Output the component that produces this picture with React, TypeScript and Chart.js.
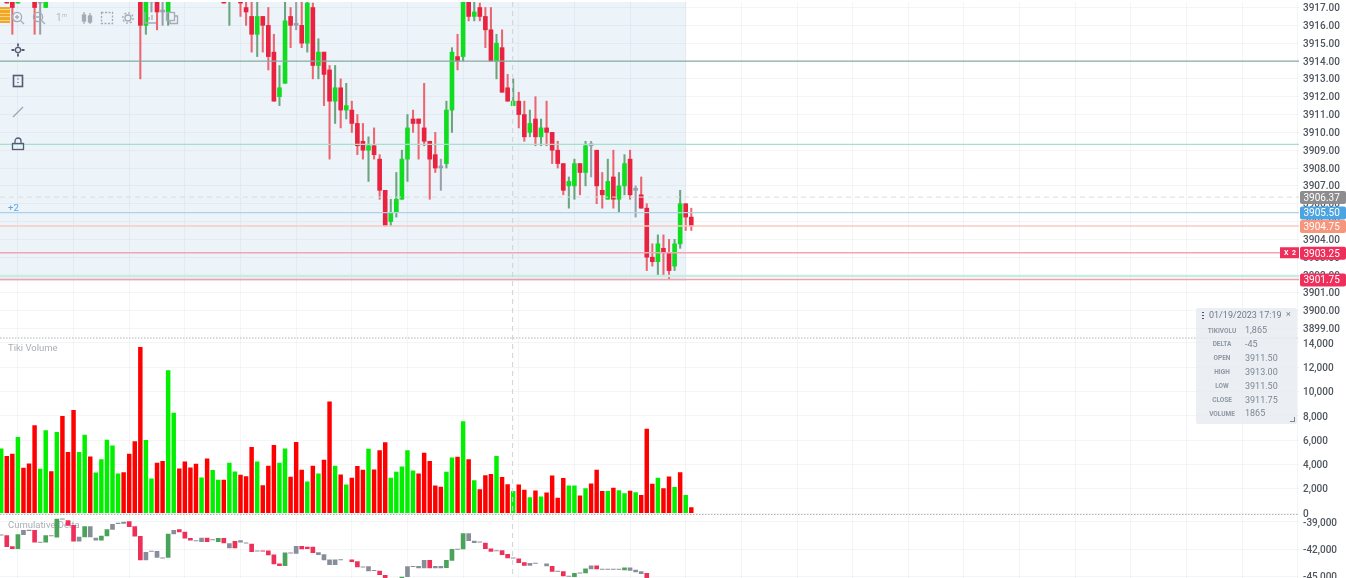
import React, { useEffect, useRef } from "react";
import { Chart, registerables } from "chart.js";

Chart.register(...registerables);

const priceTicksFormat = 2;
const firstBarTick = 7; // bar i sits at x = i + firstBarTick, so grid lines fall every 10 bars

const opens = [
  3918.25, 3918, 3918, 3917.25, 3918.5, 3919, 3918.25, 3917.25, 3917, 3918.5,
  3918, 3919.25, 3919.5, 3920, 3918.75, 3919, 3920, 3919, 3918.75, 3918.5,
  3918, 3917.75, 3918.5, 3919, 3919.5, 3918.5, 3916, 3917.5, 3918, 3916.75,
  3916.75, 3917.5, 3918.5, 3919, 3919.25, 3919.5, 3918.75, 3919.75, 3918.5, 3918,
  3917.75, 3917.5, 3917.75, 3917.75, 3917, 3916.5, 3915.5, 3916.5, 3916, 3914.5,
  3912, 3912.75, 3916.5, 3916, 3916, 3915, 3917, 3913.75, 3914.5, 3913.5,
  3911.75, 3912.5, 3911.25, 3911.25, 3910.5, 3909.5, 3909, 3909.25, 3908.5, 3906.75,
  3905, 3905.5, 3906.25, 3908.5, 3910.75, 3910.75, 3910.25, 3909.5, 3908.75, 3908,
  3908.25, 3911.25, 3914.25, 3914.25, 3918, 3916.5, 3917, 3916.5, 3915.75, 3914,
  3914.75, 3912.5, 3911.5, 3911.75, 3911, 3910, 3910.75, 3909.75, 3910.25, 3910,
  3909, 3908.25, 3907, 3907, 3908.25, 3907.75, 3909.25, 3909, 3906.75, 3906.25,
  3907.5, 3906.25, 3907, 3908.5, 3906.75, 3906.5, 3905.75, 3903, 3902.75, 3903.5,
  3903.25, 3902.5, 3903.75, 3906, 3905.25,
];
const highs = [
  3919, 3918.25, 3918.25, 3918.25, 3918.75, 3919.25, 3918.5, 3917.75, 3918, 3918.75,
  3919, 3919.5, 3919.75, 3920.25, 3920, 3920.25, 3920.5, 3919.75, 3919.5, 3919.25,
  3919, 3918.5, 3918.75, 3919.5, 3920, 3919, 3918, 3918, 3918.25, 3917.75,
  3918, 3918.5, 3918.75, 3919.25, 3919.5, 3920, 3919.75, 3920, 3919.5, 3918.75,
  3918, 3918.25, 3918.75, 3918, 3917.75, 3917.5, 3917.5, 3916.5, 3917, 3915.5,
  3913.75, 3917.5, 3917, 3917.5, 3917.5, 3917.5, 3917.25, 3915.25, 3914.5, 3913.75,
  3913.75, 3913, 3912.75, 3911.75, 3911, 3910.5, 3909.75, 3910.25, 3908.75, 3906.75,
  3906.25, 3907.75, 3909, 3911, 3911.25, 3910.75, 3912.75, 3909.5, 3910, 3908.5,
  3911.75, 3914.75, 3915.5, 3918, 3918.25, 3917.5, 3917.25, 3917, 3917, 3915.5,
  3915.75, 3913.25, 3913, 3912.25, 3911.75, 3911.25, 3912, 3910.75, 3911.75, 3910,
  3909.5, 3908.25, 3907.5, 3908.5, 3908.25, 3909.5, 3909.5, 3909, 3907.75, 3908.5,
  3909, 3907.75, 3908.75, 3909, 3907, 3907.5, 3906, 3903.75, 3904.25, 3904.25,
  3904, 3904, 3906.75, 3906, 3905.75,
];
const lows = [
  3917.75, 3917.25, 3915.5, 3917.25, 3917.75, 3918.25, 3915.5, 3915.5, 3917, 3917.75,
  3917.75, 3918, 3918.75, 3918.5, 3918.5, 3918.75, 3919, 3918.5, 3918.5, 3918,
  3917.75, 3917.5, 3917.75, 3917.75, 3918.5, 3913, 3915.5, 3916.75, 3915.75, 3916,
  3916, 3917.5, 3917.75, 3918, 3918.5, 3918.75, 3918.5, 3918.5, 3918.25, 3917.75,
  3917.25, 3916, 3917.5, 3916.5, 3916, 3914.5, 3914.25, 3914.5, 3913.5, 3911.75,
  3911.5, 3912.75, 3914.75, 3915.75, 3914.75, 3914.5, 3913, 3913, 3911.5, 3908.5,
  3910.5, 3910.25, 3910.75, 3910, 3908.75, 3908.5, 3907.25, 3908.5, 3906.25, 3904.75,
  3904.75, 3905.25, 3906.25, 3907.25, 3910, 3908.5, 3909.25, 3906.25, 3907.75, 3906.75,
  3908, 3910, 3913.5, 3914, 3916.25, 3916.25, 3916.25, 3914.75, 3914, 3913,
  3912.25, 3911.75, 3911.5, 3910.25, 3909.5, 3909.75, 3909.25, 3909.25, 3909.25, 3908.25,
  3908, 3906.5, 3905.75, 3906.25, 3906.5, 3907, 3907.5, 3906, 3905.75, 3906.25,
  3905.75, 3905.5, 3906.5, 3906.25, 3905.25, 3905.75, 3902.25, 3902.5, 3902, 3902,
  3901.75, 3902.25, 3903.5, 3904.5, 3904.5,
];
const closes = [
  3918.75, 3917.25, 3917, 3918, 3918, 3918.5, 3917, 3917.25, 3917.75, 3918,
  3918.75, 3918.25, 3919, 3919, 3919.5, 3920, 3919.5, 3919.5, 3919.25, 3919,
  3918.75, 3918.25, 3918, 3918.25, 3918.75, 3916, 3917.75, 3917.5, 3916.75, 3916.75,
  3917.75, 3918.25, 3918, 3918.25, 3918.75, 3919, 3919.5, 3919, 3919.25, 3918.5,
  3917.25, 3918, 3918.5, 3917.25, 3916.75, 3915.5, 3916.5, 3916, 3914.25, 3911.75,
  3912.5, 3916.25, 3916, 3916, 3915, 3917.25, 3913.75, 3914.5, 3913.25, 3911.75,
  3912.5, 3911.25, 3911.5, 3910.5, 3909.25, 3909, 3909.25, 3908.75, 3906.75, 3904.75,
  3905.5, 3906.25, 3908.5, 3910.25, 3910.5, 3910.5, 3909.5, 3908.5, 3908, 3908,
  3911.25, 3914.5, 3914, 3917.5, 3916.5, 3916.75, 3916.5, 3915.75, 3914, 3915,
  3912.25, 3911.75, 3911.75, 3911, 3909.75, 3910.5, 3909.75, 3910.25, 3910, 3909,
  3908.25, 3906.75, 3907.25, 3908.25, 3907.75, 3909.25, 3909.25, 3907, 3906.5, 3907.25,
  3906.25, 3907, 3908.25, 3906.5, 3906.75, 3905.75, 3903, 3902.75, 3903.75, 3903.25,
  3902.25, 3903.75, 3906, 3905.25, 3904.75,
];

const volumes = [
  5300, 4670, 4860, 6240, 3710, 4070, 7200, 3630, 6790, 3430,
  6650, 7970, 5000, 8460, 5000, 6430, 4640, 3320, 4400, 6020,
  5550, 3240, 3350, 4860, 5900, 13650, 5990, 2830, 4120, 4260,
  11730, 8240, 3650, 4230, 3740, 4040, 2910, 4480, 3520, 2720,
  2720, 4120, 3410, 3130, 3020, 5410, 4230, 2280, 3870, 5580,
  4120, 5300, 2970, 5820, 3540, 2580, 3870, 3240, 4370, 9150,
  3870, 3160, 2340, 2880, 3850, 3540, 5270, 3570, 5160, 5800,
  2880, 3380, 3820, 5160, 3490, 3240, 4950, 4260, 2250, 2140,
  3380, 4560, 4620, 7530, 4400, 2690, 1950, 3100, 3190, 4670,
  2940, 2360, 1790, 2340, 1900, 1290, 1840, 1350, 1680, 3080,
  1240, 2860, 2250, 2250, 1430, 2030, 2420, 3540, 1790, 1790,
  2060, 1870, 1620, 1810, 1700, 1460, 6920, 2390, 2880, 2030,
  2990, 2120, 3350, 1460, 470,
];
const volumeSides =
  "grrgrrrggr" + "grrrggrggg" + "ggrrrrggrr" + "ggrrrrgrgg" + "rggrrrgrrr" +
  "ggrrrgrgrr" + "grgrrrgrrr" + "gggggrrrrr" + "ggrgrgrrrg" + "rrgrrgrgrr" +
  "rrggrgrrrg" + "rggrgrrrgr" + "rgrgr";

const deltaTops: (number | null)[] = [
  -40400, -40500, -41710, -40390, -39920, -39900, -39920, -41210, -40500, -40480,
  -38670, -38650, -38850, -39370, -40650, -39510, -39510, -40760, -40540, -39840,
  -39260, -39130, -39000, -38960, -39510, -40570, -42330, -42200, -42220, -42930,
  -40320, -39920, -39840, -40100, -40790, -41030, -40760, -40760, -40930, -40790,
  -40790, -41380, -41120, -41050, -41290, -41420, -42160, -42160, -42180, -42620,
  -43610, -42400, -42380, -41670, -41670, -41750, -41750, -42370, -42590, -43170,
  -43170, -43120, null, -43170, -43360, -43920, -43900, -44320, -44380, -44860,
  -45300, -45500, -45040, -43900, -43880, -43870, -43210, -43210, -43870, -43870,
  -43210, -42000, -41980, -40280, -40280, -41090, -41180, -41310, -41960, -42130,
  -42150, -42550, -42930, -43060, -43470, -43540, -43520, null, -43610, -43870,
  -44400, -44450, -44950, -44640, -44580, -44160, -43830, -43830, -44180, -44180,
  -44180, -44180, -44050, -44050, -44270, -44450, -44640, -45200, -45300, -45350,
  -45400, -45450, -45500, -45550, -45600,
];
const deltaBottoms: (number | null)[] = [
  -40450, -41710, -41930, -41930, -40390, -39950, -41230, -41250, -41230, -40540,
  -40680, -38700, -39370, -41120, -41120, -40650, -40650, -41010, -41010, -40540,
  -39810, -39170, -39150, -39510, -40570, -43170, -43170, -42240, -42880, -42970,
  -42880, -40320, -40100, -40790, -41010, -41070, -41160, -41160, -40970, -41160,
  -41310, -41850, -41850, -41230, -41330, -42260, -42200, -42200, -42620, -43610,
  -43790, -43790, -42420, -42440, -41960, -41930, -42370, -42590, -43170, -43680,
  -43680, -43160, null, -43360, -43940, -43960, -44380, -44360, -44780, -45150,
  -45500, -45700, -45330, -45000, -43920, -44050, -44050, -44050, -44050, -44050,
  -44010, -43210, -42020, -41960, -41050, -41270, -41220, -41930, -42220, -42170,
  -42590, -42950, -42970, -43470, -43760, -43760, -43560, null, -43830, -44420,
  -44440, -44930, -44990, -45000, -44620, -44600, -44160, -44160, -44220, -44220,
  -44220, -44220, -44270, -44310, -44490, -44670, -45150, -45300, -45350, -45400,
  -45450, -45500, -45550, -45600, -45700,
];
const deltaKinds =
  "nrrgnnrngn" + "gnrrngnngg" + "nnnrrrnnnn" + "gnrrrnnrng" + "rnrnnrnrrr" +
  "rgnnrrrnnn" + "nnnrrnnnrr" + "rggnnnnrnn" + "ggngnnnrrn" + "rrnrrnnnnr" +
  "nrngngnrnn" + "nngnnnrrgr" + "rgrrr";

const volumeTicks = [0, 2000, 4000, 6000, 8000, 10000, 12000, 14000];
const deltaTicks = [-39000, -42000, -45000];

const priceLines = [
  { value: 3914, color: "#86ada3", width: 1.3 },
  { value: 3909.33, color: "#a8decd", width: 1.2 },
  { value: 3906.37, color: "#dcdcdc", width: 1, dash: [5, 4] },
  { value: 3905.5, color: "#add1ea", width: 1.2 },
  { value: 3904.75, color: "#f9cbc1", width: 1.6 },
  { value: 3903.25, color: "#f2a4b4", width: 1.3 },
  { value: 3901.95, color: "#c8ecdf", width: 2.6 },
  { value: 3901.75, color: "#f29fb2", width: 1.4 },
];
const priceTags = [
  { value: 3906.37, text: "3906.37", color: "#8d8d8f" },
  { value: 3905.5, text: "3905.50", color: "#4ca4e2" },
  { value: 3904.75, text: "3904.75", color: "#f8967c" },
  { value: 3903.25, text: "3903.25", color: "#ef2f5b" },
  { value: 3901.75, text: "3901.75", color: "#ef2f5b" },
];
const positionTag = { value: 3903.25, text: "X  2", color: "#ef2f5b" };
const shadedUntilBar = 123.1;
const shadedDownTo = 3901.65;
const crosshairBar = 91.9;

const tooltipDate = "01/19/2023 17:19";
const tooltipLabels = ["TIKIVOLU", "DELTA", "OPEN", "HIGH", "LOW", "CLOSE", "VOLUME"];
const tooltipValues = ["1,865", "-45", "3911.50", "3913.00", "3911.50", "3911.75", "1865"];

const RED_BODY = "#e9233f";
const GREEN_BODY = "#10dd20";
const NEUTRAL = "#9aa0a9";

const fmt = new Intl.NumberFormat("en-US");
const axisFont = { family: "Roboto", size: 10, weight: "500" };
const axisColor = "#50565e";
const gridColor = "rgba(175,185,197,0.14)";
const labelNudge = 1.1;

const fitAxis = (width: number) => (s: any) => {
  s.width = width;
  s.paddingTop = 0;
  s.paddingBottom = 0;
  s.paddingLeft = 0;
  s.paddingRight = 0;
};
const fixedTicks = (values: number[]) => (s: any) => {
  s.ticks = values.map((value) => ({ value }));
};

const Icon = ({ x, y, children }: any) => (
  <svg
    width={16}
    height={16}
    viewBox="0 0 16 16"
    style={{ position: "absolute", left: x - 8, top: y - 8 }}
    fill="none"
    stroke="currentColor"
    strokeWidth={1.3}
  >
    {children}
  </svg>
);

export default function App() {
  const ref = useRef<HTMLCanvasElement | null>(null);

  useEffect(() => {
    document.body.style.margin = "0";
    const bars = opens.map((_, i) => i + firstBarTick);
    const tone = (o: number, c: number, up: string, down: string) =>
      c > o ? up : c < o ? down : NEUTRAL;

    const panelsPlugin = {
      id: "panels",
      beforeDraw(chart: any) {
        const { ctx, scales } = chart;
        const x = scales.x;
        const p = scales.price;
        ctx.save();
        ctx.fillStyle = "#ecf3f9";
        const right = x.getPixelForValue(shadedUntilBar + firstBarTick);
        const bottom = p.getPixelForValue(shadedDownTo);
        ctx.fillRect(0, p.top, right, bottom - p.top);
        ctx.restore();
      },
      beforeDatasetsDraw(chart: any) {
        const { ctx, scales } = chart;
        ctx.save();
        ctx.fillStyle = "#a9aeb6";
        ctx.font = "9.5px Roboto";
        ctx.textBaseline = "middle";
        ctx.fillText("Tiki Volume", 8, scales.volume.top + 11);
        ctx.fillText("Cumulative Delta", 8, scales.delta.top + 11);
        ctx.fillStyle = "#5aa9e6";
        ctx.fillText("+2", 8, scales.price.getPixelForValue(3905.72));
        ctx.restore();
      },
      afterDatasetsDraw(chart: any) {
        const { ctx, scales, chartArea } = chart;
        const cx = scales.x.getPixelForValue(crosshairBar + firstBarTick);
        ctx.save();
        ctx.strokeStyle = "#cfd2d6";
        ctx.lineWidth = 1;
        ctx.setLineDash([5, 4]);
        ctx.beginPath();
        ctx.moveTo(cx, chartArea.top);
        ctx.lineTo(cx, chartArea.bottom);
        ctx.stroke();
        ctx.strokeStyle = "#b4b4b4";
        ctx.setLineDash([1.5, 1.5]);
        for (const y of [scales.volume.top, scales.volume.bottom]) {
          ctx.beginPath();
          ctx.moveTo(0, y);
          ctx.lineTo(chartArea.right, y);
          ctx.stroke();
        }
        ctx.restore();
      },
      afterDraw(chart: any) {
        const { ctx, scales, chartArea, width } = chart;
        ctx.save();
        ctx.textBaseline = "middle";
        ctx.font = "10px Roboto";
        for (const t of priceTags) {
          const y = scales.price.getPixelForValue(t.value) + 0.5;
          ctx.fillStyle = t.color;
          ctx.beginPath();
          ctx.roundRect(chartArea.right + 1, y - 6.5, width - chartArea.right - 1, 13, 2);
          ctx.fill();
          ctx.fillStyle = "#ffffff";
          ctx.fillText(t.text, 1303.5, y + 0.8);
        }
        const py = scales.price.getPixelForValue(positionTag.value);
        ctx.fillStyle = positionTag.color;
        ctx.fillRect(chartArea.right - 19, py - 5.5, 19, 11);
        ctx.fillStyle = "#ffffff";
        ctx.font = "bold 7px Roboto";
        ctx.fillText(positionTag.text, chartArea.right - 15, py + 0.5);
        ctx.restore();
      },
    };

    const xMin = 6.784;
    const xMax = 240.2;

    const chart = new Chart(ref.current as HTMLCanvasElement, {
      type: "bar",
      plugins: [panelsPlugin],
      data: {
        datasets: [
          ...priceLines.map((l: any) => ({
            type: "line",
            xAxisID: "x",
            yAxisID: "price",
            order: 0,
            data: [
              { x: xMin, y: l.value },
              { x: xMax, y: l.value },
            ],
            borderColor: l.color,
            borderWidth: l.width,
            borderDash: l.dash || [],
            pointRadius: 0,
            tension: 0,
          })),
          {
            xAxisID: "x",
            yAxisID: "price",
            order: 3,
            grouped: false,
            barThickness: 1.4,
            borderWidth: 0,
            data: bars.map((x, i) => ({ x, y: [lows[i], highs[i]] })),
            backgroundColor: bars.map((_, i) =>
              tone(opens[i], closes[i], "rgba(84,150,104,0.85)", "rgba(236,62,74,0.78)")
            ),
          },
          {
            xAxisID: "x",
            yAxisID: "price",
            order: 2,
            grouped: false,
            barThickness: 4,
            minBarLength: 2,
            borderWidth: 0,
            data: bars.map((x, i) => ({ x, y: [closes[i], opens[i]] })),
            backgroundColor: bars.map((_, i) => tone(opens[i], closes[i], GREEN_BODY, RED_BODY)),
          },
          {
            xAxisID: "x",
            yAxisID: "volume",
            order: 2,
            grouped: false,
            barThickness: 3.8,
            borderWidth: 0,
            data: bars.map((x, i) => ({ x, y: [0, volumes[i]] })),
            backgroundColor: bars.map((_, i) => (volumeSides[i] === "g" ? "#00f000" : "#ff0000")),
          },
          {
            xAxisID: "x",
            yAxisID: "delta",
            order: 2,
            grouped: false,
            barThickness: 4,
            borderWidth: 0,
            data: bars.map((x, i) => ({
              x,
              y: deltaTops[i] === null ? null : [deltaBottoms[i], deltaTops[i]],
            })),
            backgroundColor: bars.map((_, i) =>
              deltaKinds[i] === "r" ? "#ee3058" : deltaKinds[i] === "g" ? "#4aa35a" : "#888e99"
            ),
          },
        ],
      } as any,
      options: {
        animation: false,
        responsive: false,
        events: [],
        layout: { padding: { top: 2, left: 0, right: 0, bottom: 0 } },
        plugins: { legend: { display: false }, tooltip: { enabled: false } },
        scales: {
          x: {
            type: "linear",
            offset: false,
            min: xMin,
            max: xMax,
            afterFit: (s: any) => {
              s.height = 0;
              s.paddingLeft = 0;
              s.paddingRight = 0;
            },
            border: { display: false },
            ticks: { display: false, stepSize: 10, includeBounds: false },
            grid: { color: gridColor, drawTicks: false, offset: false },
          },
          price: {
            type: "linear",
            position: "right",
            stack: "panels",
            stackWeight: 336,
            min: 3898.47,
            max: 3917.31,
            afterFit: fitAxis(47),
            border: { display: false },
            grid: { color: gridColor, drawTicks: false },
            ticks: {
              stepSize: 1,
              includeBounds: false,
              autoSkip: false,
              padding: 4,
              labelOffset: labelNudge,
              color: axisColor,
              font: axisFont,
              callback: (v: any) => Number(v).toFixed(priceTicksFormat),
            },
          },
          volume: {
            type: "linear",
            position: "right",
            stack: "panels",
            stackWeight: 176.5,
            min: -107,
            max: 14410,
            afterBuildTicks: fixedTicks(volumeTicks),
            afterFit: fitAxis(47),
            border: { display: false },
            grid: { color: gridColor, drawTicks: false },
            ticks: {
              autoSkip: false,
              padding: 4,
              labelOffset: labelNudge,
              color: axisColor,
              font: axisFont,
              callback: (v: any) => fmt.format(Number(v)),
            },
          },
          delta: {
            type: "linear",
            position: "right",
            stack: "panels",
            stackWeight: 63.5,
            min: -45154,
            max: -38176,
            afterBuildTicks: fixedTicks(deltaTicks),
            afterFit: fitAxis(47),
            border: { display: false },
            grid: { color: gridColor, drawTicks: false },
            ticks: {
              autoSkip: false,
              padding: 4,
              labelOffset: labelNudge,
              color: axisColor,
              font: axisFont,
              callback: (v: any) => fmt.format(Number(v)),
            },
          },
        },
      } as any,
    } as any);
    return () => chart.destroy();
  }, []);

  return (
    <div style={{ position: "absolute", left: 0, top: 0, width: 1346, height: 578, overflow: "hidden", background: "#fff", fontFamily: "Roboto" }}>
      <canvas ref={ref} width={1346} height={578} style={{ display: "block", width: 1346, height: 578, filter: "blur(0.6px)" }} />

      <div style={{ position: "absolute", inset: 0, filter: "blur(0.45px)" }}>
        {/* orange menu */}
        <div style={{ position: "absolute", left: 0, top: 7, width: 10, height: 16, background: "repeating-linear-gradient(#f2a623 0 2.5px, #f8d68f 2.5px 3.5px)" }} />

        {/* top toolbar */}
        <div style={{ color: "#a4abb5" }}>
          <Icon x={18} y={18}><circle cx="7" cy="7" r="4.6" /><path d="M10.5 10.5 14 14M5 7h4M7 5v4" /></Icon>
          <Icon x={39} y={18}><circle cx="7" cy="7" r="4.6" /><path d="M10.5 10.5 14 14M5 7h4" /></Icon>
          <div style={{ position: "absolute", left: 56, top: 11, fontSize: 10, color: "#b2b8c0" }}>1<sup style={{ fontSize: 6 }}>m</sup></div>
          <Icon x={87} y={18}><path d="M5 2v12M11 3v11" /><rect x="3.5" y="5" width="3" height="6" fill="currentColor" /><rect x="9.5" y="6" width="3" height="6" fill="currentColor" /></Icon>
          <Icon x={107} y={18}><rect x="2.5" y="2.5" width="11" height="11" strokeDasharray="2 1.5" /></Icon>
          <Icon x={128} y={18}><circle cx="8" cy="8" r="3" /><circle cx="8" cy="8" r="5.2" strokeDasharray="2 2" /></Icon>
          <Icon x={150} y={18}><path d="M3 2v11h11M7 10V7M10 10V5" /></Icon>
          <Icon x={172} y={18}><rect x="2.5" y="2.5" width="8" height="8" /><path d="M10.5 6h3v7.5H6v-3" /></Icon>
        </div>

        {/* left toolbar */}
        <div style={{ color: "#545c74" }}>
          <Icon x={18} y={50}><circle cx="8" cy="8" r="2.6" /><path d="M8 1.5v3M8 11.5v3M1.5 8h3M11.5 8h3" strokeWidth={1.8} /></Icon>
          <Icon x={18} y={81}><rect x="3.5" y="2.5" width="9" height="11" strokeWidth={1.6} /><path d="M8 5.5v1M8 9v1" /></Icon>
          <div style={{ color: "#9ea5af" }}>
            <Icon x={18} y={112}><path d="M3 13 13 3" /></Icon>
          </div>
          <Icon x={18} y={144}><rect x="2.5" y="7.5" width="11" height="6" /><path d="M5 7.5V5a3 3 0 0 1 6 0v2.5" /></Icon>
        </div>

        {/* legend panel */}
        <div style={{ position: "absolute", left: 1196, top: 308, width: 101, height: 116, background: "rgba(230,235,240,0.82)", borderRadius: 2, color: "#77828f" }}>
          <div style={{ position: "absolute", left: 6, top: 3, width: 2, height: 9, background: "radial-gradient(circle, #4a5260 0.9px, transparent 1px) 0 0 / 2px 3px" }} />
          <div style={{ position: "absolute", left: 13, top: 2, fontSize: 9, lineHeight: "11px", whiteSpace: "nowrap", color: "#6f7a88" }}>{tooltipDate}</div>
          <div style={{ position: "absolute", left: 90, top: 1, fontSize: 9, lineHeight: "11px" }}>×</div>
          {tooltipLabels.map((label, i) => (
            <React.Fragment key={label}>
              <div style={{ position: "absolute", left: 5, width: 42, top: 17.5 + i * 13.9, fontSize: 6.5, lineHeight: "10px", textAlign: "center", fontWeight: 700, color: "#8e97a3", whiteSpace: "nowrap" }}>{label}</div>
              <div style={{ position: "absolute", left: 49, top: 17 + i * 13.9, fontSize: 9, lineHeight: "11px", color: "#7c8794" }}>{tooltipValues[i]}</div>
            </React.Fragment>
          ))}
          <div style={{ position: "absolute", right: 2, bottom: 2, width: 4, height: 4, borderRight: "1px solid #7c8794", borderBottom: "1px solid #7c8794" }} />
        </div>
      </div>
    </div>
  );
}
